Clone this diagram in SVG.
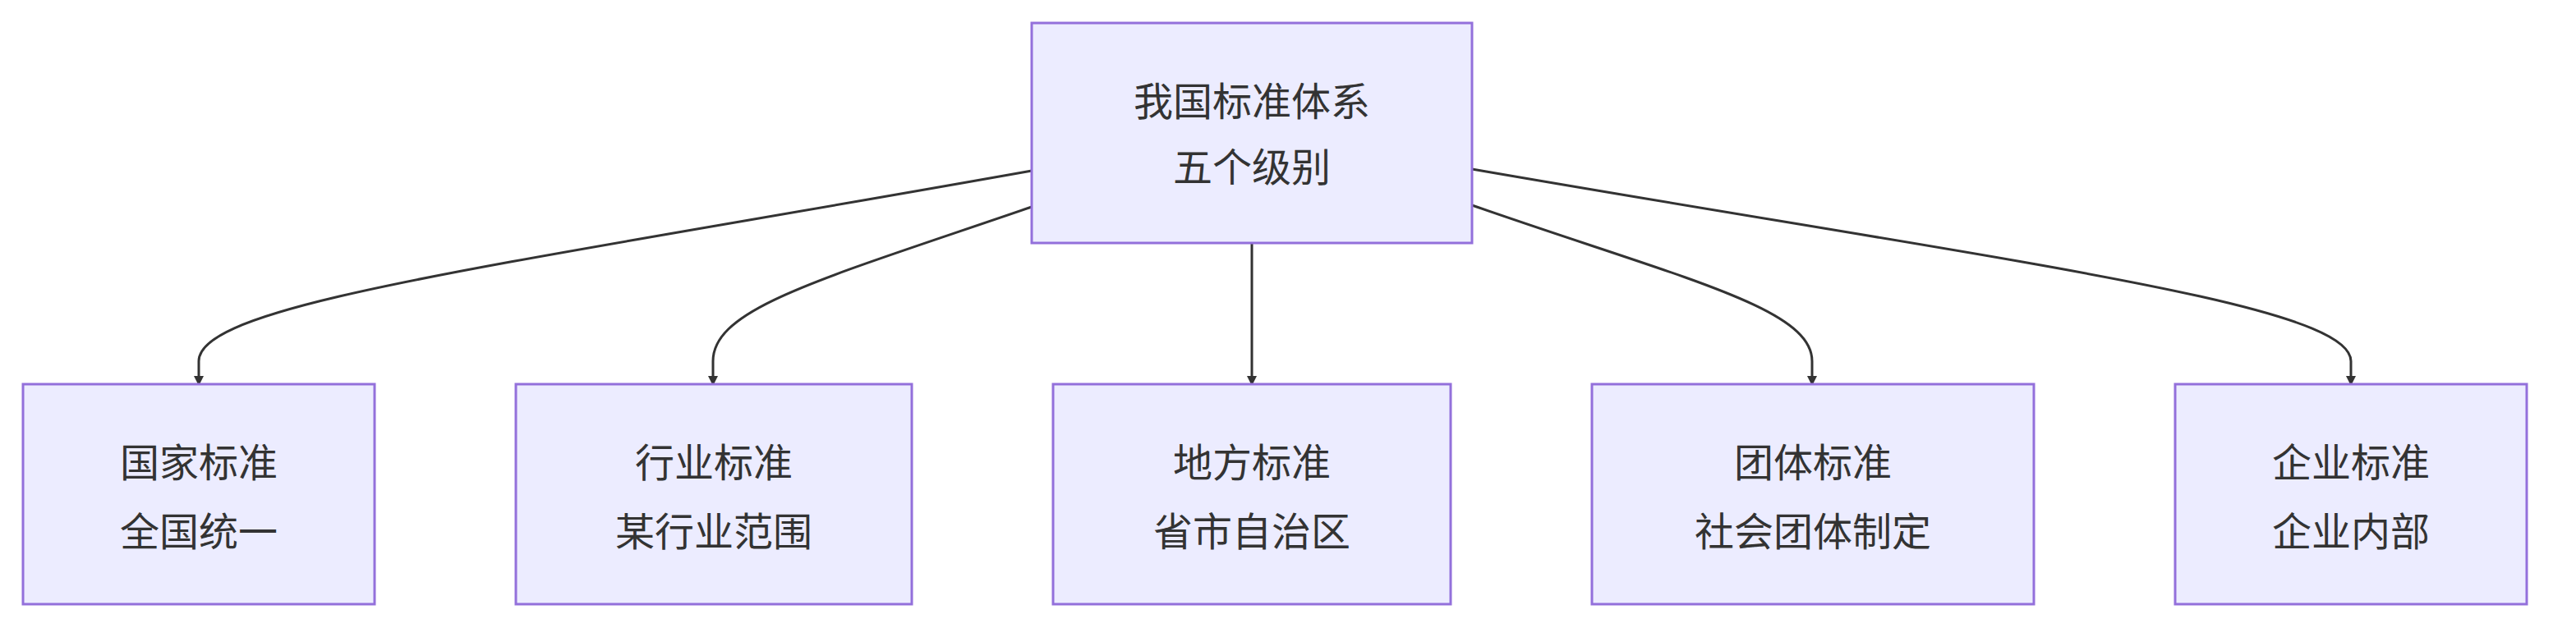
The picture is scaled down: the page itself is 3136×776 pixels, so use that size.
<svg xmlns="http://www.w3.org/2000/svg" width="3136" height="776" viewBox="0 0 3136 776">
<style>
.n{fill:#ECECFF;stroke:#9370DB;stroke-width:3}
.t{font-family:"Noto Sans CJK SC","Noto Sans",sans-serif;font-size:48px;fill:#333;text-anchor:middle;dominant-baseline:central}
.e{fill:none;stroke:#333;stroke-width:3}
</style>
<defs><marker id="a" markerWidth="12" markerHeight="12" refX="10" refY="6" orient="auto" markerUnits="userSpaceOnUse" viewBox="0 0 12 12"><path d="M0,0L12,6L0,12z" fill="#333"/></marker></defs>
<rect width="3136" height="776" fill="#fff"/>
<g id="edges">
<path class="e" marker-end="url(#a)" d="M1256,208 C600,325 242,370 242,440 L242,468"/>
<path class="e" marker-end="url(#a)" d="M1256,252 C1000,340 868,375 868,440 L868,468"/>
<path class="e" marker-end="url(#a)" d="M1524,296 L1524,468"/>
<path class="e" marker-end="url(#a)" d="M1792,250 C2050,340 2206,375 2206,440 L2206,468"/>
<path class="e" marker-end="url(#a)" d="M1792,206 C2450,320 2862,370 2862,440 L2862,468"/>
</g>
<g id="top"><rect class="n" x="1256" y="28" width="536" height="268"/><text class="t" x="1524" y="120">我国标准体系</text><text class="t" x="1524" y="200">五个级别</text></g>
<g id="n1"><rect class="n" x="28" y="468" width="428" height="268"/><text class="t" x="242" y="560">国家标准</text><text class="t" x="242" y="644">全国统一</text></g>
<g id="n2"><rect class="n" x="628" y="468" width="482" height="268"/><text class="t" x="869" y="560">行业标准</text><text class="t" x="869" y="644">某行业范围</text></g>
<g id="n3"><rect class="n" x="1282" y="468" width="484" height="268"/><text class="t" x="1524" y="560">地方标准</text><text class="t" x="1524" y="644">省市自治区</text></g>
<g id="n4"><rect class="n" x="1938" y="468" width="538" height="268"/><text class="t" x="2207" y="560">团体标准</text><text class="t" x="2207" y="644">社会团体制定</text></g>
<g id="n5"><rect class="n" x="2648" y="468" width="428" height="268"/><text class="t" x="2862" y="560">企业标准</text><text class="t" x="2862" y="644">企业内部</text></g>
</svg>
